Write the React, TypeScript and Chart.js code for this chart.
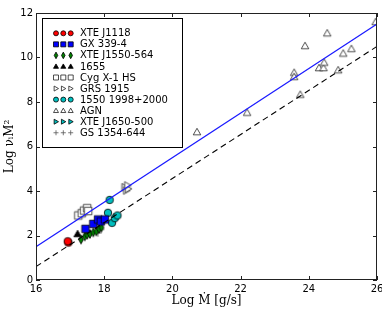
import React, { useEffect, useRef } from "react";
import { Chart, registerables } from "chart.js";

Chart.register(...registerables);

// ---- data ----
const xTicks = [16, 18, 20, 22, 24, 26];
const yTicks = [0, 2, 4, 6, 8, 10, 12];

const xte1118X = [16.95, 16.93];
const xte1118Y = [1.68, 1.74];

const gx339X = [17.45, 17.68, 17.82, 17.9, 18.02];
const gx339Y = [2.3, 2.52, 2.72, 2.63, 2.72];

const xte1550X = [17.32, 17.43, 17.5, 17.58, 17.68, 17.77, 17.85, 17.92];
const xte1550Y = [1.82, 1.96, 2.03, 2.07, 2.14, 2.18, 2.3, 2.36];

const j1655X = [17.22];
const j1655Y = [2.07];

const cygX = [17.24, 17.34, 17.41, 17.5, 17.53];
const cygY = [2.9, 3.0, 3.12, 3.23, 3.1];

const grsX = [18.6, 18.65, 18.7, 18.68];
const grsY = [4.17, 4.02, 4.1, 4.25];

const c1550X = [18.16, 18.11, 18.23, 18.31, 18.39, 17.92];
const c1550Y = [3.6, 3.02, 2.57, 2.78, 2.9, 2.67];

const agnX = [20.72, 22.19, 23.57, 23.57, 23.75, 23.89, 24.3, 24.43, 24.45, 24.54, 24.86, 25.01, 25.25, 25.96];
const agnY = [6.65, 7.52, 9.32, 9.13, 8.33, 10.52, 9.53, 9.53, 9.77, 11.09, 9.43, 10.18, 10.39, 11.6];

const xte1650X = [18.36];
const xte1650Y = [2.83];

const gs1354X = [17.82, 17.9];
const gs1354Y = [2.12, 2.28];

const fitSolidX = [16, 26];
const fitSolidY = [1.5, 11.5];
const fitDashX = [16, 26];
const fitDashY = [0.6, 10.5];

type Kind = "circle" | "square" | "thinDiamond" | "triUp" | "triRight" | "plus";

interface Series {
  label: string;
  xs: number[];
  ys: number[];
  kind: Kind;
  fill: string;
  stroke: string;
}

const series: Series[] = [
  { label: "XTE J1118", xs: xte1118X, ys: xte1118Y, kind: "circle", fill: "#ff0000", stroke: "#000000" },
  { label: "GX 339-4", xs: gx339X, ys: gx339Y, kind: "square", fill: "#0000ff", stroke: "#000000" },
  { label: "XTE J1550-564", xs: xte1550X, ys: xte1550Y, kind: "thinDiamond", fill: "#008000", stroke: "#000000" },
  { label: "1655", xs: j1655X, ys: j1655Y, kind: "triUp", fill: "#000000", stroke: "#000000" },
  { label: "Cyg X-1 HS", xs: cygX, ys: cygY, kind: "square", fill: "#ffffff", stroke: "#222222" },
  { label: "GRS 1915", xs: grsX, ys: grsY, kind: "triRight", fill: "#ffffff", stroke: "#222222" },
  { label: "1550 1998+2000", xs: c1550X, ys: c1550Y, kind: "circle", fill: "#00bfbf", stroke: "#000000" },
  { label: "AGN", xs: agnX, ys: agnY, kind: "triUp", fill: "#ffffff", stroke: "#222222" },
  { label: "XTE J1650-500", xs: xte1650X, ys: xte1650Y, kind: "triRight", fill: "#00bfbf", stroke: "#000000" },
  { label: "GS 1354-644", xs: gs1354X, ys: gs1354Y, kind: "plus", fill: "#555555", stroke: "#555555" },
];

function drawMarker(ctx: CanvasRenderingContext2D, kind: Kind, cx: number, cy: number, s: number, fill: string, stroke: string) {
  const r = s / 2;
  ctx.save();
  ctx.lineWidth = 0.8;
  ctx.fillStyle = fill;
  ctx.strokeStyle = stroke;
  ctx.beginPath();
  if (kind === "circle") {
    ctx.arc(cx, cy, r, 0, Math.PI * 2);
  } else if (kind === "square") {
    ctx.rect(cx - r, cy - r, s, s);
  } else if (kind === "thinDiamond") {
    ctx.moveTo(cx, cy - r * 1.1);
    ctx.lineTo(cx + r * 0.6, cy);
    ctx.lineTo(cx, cy + r * 1.1);
    ctx.lineTo(cx - r * 0.6, cy);
    ctx.closePath();
  } else if (kind === "triUp") {
    ctx.moveTo(cx, cy - r);
    ctx.lineTo(cx + r, cy + r * 0.75);
    ctx.lineTo(cx - r, cy + r * 0.75);
    ctx.closePath();
  } else if (kind === "triRight") {
    ctx.moveTo(cx + r, cy);
    ctx.lineTo(cx - r * 0.75, cy - r);
    ctx.lineTo(cx - r * 0.75, cy + r);
    ctx.closePath();
  } else if (kind === "plus") {
    ctx.lineWidth = 0.8;
    ctx.moveTo(cx - r, cy);
    ctx.lineTo(cx + r, cy);
    ctx.moveTo(cx, cy - r);
    ctx.lineTo(cx, cy + r);
    ctx.stroke();
    ctx.restore();
    return;
  }
  ctx.fill();
  ctx.stroke();
  ctx.restore();
}

function makeMarkerImage(kind: Kind, s: number, fill: string, stroke: string): HTMLCanvasElement {
  const c = document.createElement("canvas");
  const n = Math.ceil(s + 4);
  c.width = n;
  c.height = n;
  const ctx = c.getContext("2d")!;
  drawMarker(ctx, kind, n / 2, n / 2, s, fill, stroke);
  return c;
}

const framePlugin = {
  id: "frameAndLegend",
  afterDraw(chart: any) {
    const { ctx, chartArea } = chart;
    const { left, right, top, bottom } = chartArea;
    const xs = chart.scales.x;
    const ys = chart.scales.y;
    ctx.save();
    ctx.strokeStyle = "#222222";
    ctx.lineWidth = 1;
    ctx.strokeRect(left + 0.5, top + 0.5, right - left - 1, bottom - top - 1);
    ctx.beginPath();
    const tl = 4;
    xTicks.forEach((v) => {
      const px = Math.round(xs.getPixelForValue(v)) + 0.5;
      ctx.moveTo(px, bottom);
      ctx.lineTo(px, bottom - tl);
      ctx.moveTo(px, top);
      ctx.lineTo(px, top + tl);
    });
    yTicks.forEach((v) => {
      const py = Math.round(ys.getPixelForValue(v)) + 0.5;
      ctx.moveTo(left, py);
      ctx.lineTo(left + tl, py);
      ctx.moveTo(right, py);
      ctx.lineTo(right - tl, py);
    });
    ctx.stroke();

    // legend
    const bx = 42, by = 18, bw = 140, bh = 129;
    ctx.fillStyle = "#ffffff";
    ctx.fillRect(bx, by, bw, bh);
    ctx.strokeStyle = "#000000";
    ctx.lineWidth = 1;
    ctx.strokeRect(bx + 0.5, by + 0.5, bw, bh);
    ctx.font = "10px 'DejaVu Sans'";
    ctx.textBaseline = "middle";
    ctx.textAlign = "left";
    series.forEach((s, i) => {
      const y = 33.3 + i * 11.05;
      [56, 63.3, 70.7].forEach((mx) => {
        drawMarker(ctx, s.kind, mx, y, s.kind === "thinDiamond" ? 6 : 5, s.fill, s.stroke);
      });
      ctx.fillStyle = "#000000";
      ctx.fillText(s.label, 80, y + 0.5);
    });
    ctx.restore();
  },
};

export default function App() {
  const ref = useRef<HTMLCanvasElement | null>(null);
  useEffect(() => {
    if (!ref.current) return;
    const datasets: any[] = [
      {
        label: "fit",
        data: fitSolidX.map((x, i) => ({ x, y: fitSolidY[i] })),
        showLine: true,
        borderColor: "#1a1aff",
        borderWidth: 1.2,
        pointRadius: 0,
        fill: false,
      },
      {
        label: "fit2",
        data: fitDashX.map((x, i) => ({ x, y: fitDashY[i] })),
        showLine: true,
        borderColor: "#000000",
        borderWidth: 1.1,
        borderDash: [6, 4],
        pointRadius: 0,
        fill: false,
      },
      ...series.map((s) => ({
        label: s.label,
        data: s.xs.map((x, i) => ({ x, y: s.ys[i] })),
        pointStyle: makeMarkerImage(s.kind, s.kind === "thinDiamond" ? 8 : 7.5, s.fill, s.stroke),
        pointRadius: 4,
        showLine: false,
      })),
    ];
    const chart = new Chart(ref.current, {
      type: "scatter",
      data: { datasets },
      plugins: [framePlugin],
      options: {
        animation: false,
        responsive: true,
        maintainAspectRatio: false,
        layout: { padding: { top: 13, right: 4, left: 0, bottom: 0 } },
        plugins: { legend: { display: false }, tooltip: { enabled: false } },
        scales: {
          x: {
            type: "linear",
            min: 16,
            max: 26,
            afterFit: (sc: any) => { sc.height = 31; sc.paddingRight = 0; sc.paddingLeft = 0; },
            afterBuildTicks: (sc: any) => { sc.ticks = xTicks.map((v) => ({ value: v })); },
            grid: { display: false, drawTicks: false },
            border: { display: false },
            ticks: { padding: 3, color: "#000", font: { family: "DejaVu Sans", size: 10 }, maxRotation: 0 },
            title: {
              display: true,
              text: "Log Ṁ [g/s]",
              color: "#000",
              font: { family: "DejaVu Serif", size: 12 },
              padding: { top: 0, bottom: 3 },
            },
          },
          y: {
            type: "linear",
            min: 0,
            max: 12,
            afterFit: (sc: any) => { sc.width = 36; sc.paddingTop = 0; sc.paddingBottom = 0; },
            afterBuildTicks: (sc: any) => { sc.ticks = yTicks.map((v) => ({ value: v })); },
            grid: { display: false, drawTicks: false },
            border: { display: false },
            ticks: { padding: 3, color: "#000", font: { family: "DejaVu Sans", size: 10 } },
            title: {
              display: true,
              text: "Log νᵢM²",
              color: "#000",
              font: { family: "DejaVu Serif", size: 12 },
              padding: { top: 3, bottom: 0 },
            },
          },
        },
      },
    });
    return () => chart.destroy();
  }, []);
  return (
    <div style={{ position: "fixed", left: 0, top: 0, width: 382, height: 311, background: "#fff" }}>
      <canvas ref={ref} />
    </div>
  );
}
